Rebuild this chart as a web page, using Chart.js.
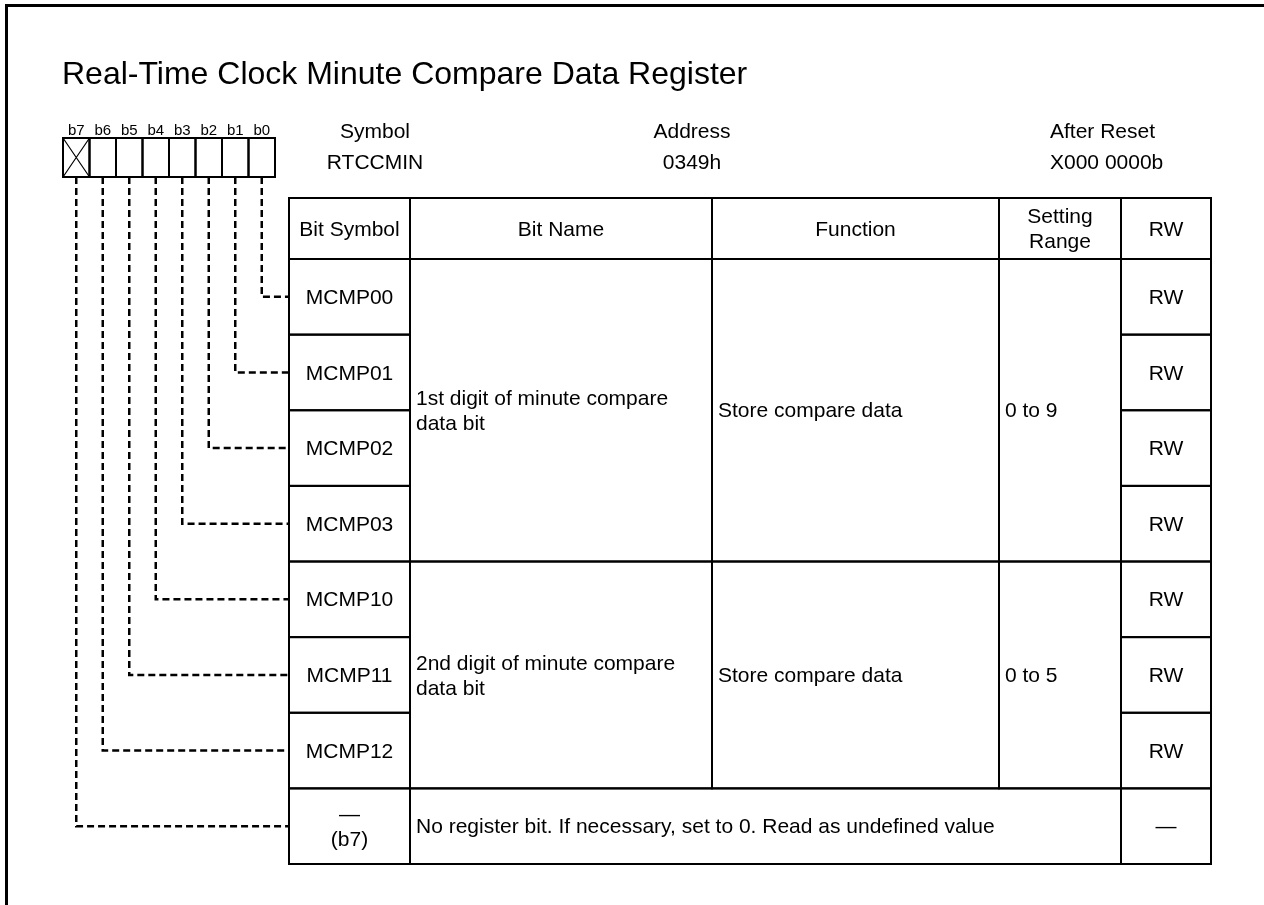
<!DOCTYPE html>
<html>
<head>
<meta charset="utf-8">
<script src="https://cdn.jsdelivr.net/npm/chart.js@4.4.1/dist/chart.umd.min.js"></script>
<style>
html,body{margin:0;padding:0;background:#fff;}
#wrap{width:1264px;height:905px;}
canvas{display:block;}
</style>
</head>
<body>
<div id="wrap"><canvas id="c" width="1264" height="905"></canvas></div>
<script>
// ---- data ----
const titleText = 'Real-Time Clock Minute Compare Data Register';
const bitLabels = ['b7','b6','b5','b4','b3','b2','b1','b0'];
const reservedBits = [7];
const registerSymbol = 'RTCCMIN';
const registerAddress = '0349h';
const registerReset = 'X000 0000b';
const infoHeaders = ['Symbol','Address','After Reset'];
const columnHeaders = ['Bit Symbol','Bit Name','Function','Setting\nRange','RW'];
const bitSymbols = ['MCMP00','MCMP01','MCMP02','MCMP03','MCMP10','MCMP11','MCMP12'];
const bitNumbers = [0,1,2,3,4,5,6];
const rwValues = ['RW','RW','RW','RW','RW','RW','RW'];
const groupFirstRow = [0,4];
const groupLastRow = [3,6];
const bitNames = ['1st digit of minute compare\ndata bit','2nd digit of minute compare\ndata bit'];
const functions = ['Store compare data','Store compare data'];
const settingRanges = ['0 to 9','0 to 5'];
const reservedSymbol = '\u2014\n(b7)';
const reservedText = 'No register bit. If necessary, set to 0. Read as undefined value';
const reservedRW = '\u2014';

// ---- layout (chart units) ----
const LAY = {
  frameX: 5, frameY: 4, frameW: 3,
  titleX: 62, titleY: 84, titleSize: 32,
  bitLeft: 63, bitTop: 138, bitBottom: 177, bitW: 26.5, bitLabelY: 135, bitLabelSize: 15,
  infoX: [375, 692, 1050], infoAlign: ['center','center','left'], infoY1: 138, infoY2: 169,
  cols: [289, 410, 712, 999, 1121, 1211],
  tableTop: 198, headBottom: 259, rowH: 75.625,
  font: 21, lineH: 25, pad: 6
};
const FONT = '"Liberation Sans", Arial, Helvetica, sans-serif';

function bitX(bit) { return LAY.bitLeft + (7 - bit + 0.5) * LAY.bitW; }
function rowTop(r) { return LAY.headBottom + r * LAY.rowH; }
function rowCenter(r) { return rowTop(r) + LAY.rowH / 2; }

// connector polylines: bit box -> row of table
const connectorRows = bitNumbers.concat(reservedBits);
const datasets = connectorRows.map((bit, r) => ({
  data: [
    { x: bitX(bit), y: LAY.bitBottom },
    { x: bitX(bit), y: rowCenter(r) },
    { x: LAY.cols[0], y: rowCenter(r) }
  ],
  showLine: true,
  borderColor: '#000',
  borderWidth: 2.5,
  borderDash: [7, 4],
  pointRadius: 0,
  tension: 0,
  fill: false
}));

const tablePlugin = {
  id: 'registerTable',
  afterDatasetsDraw(chart) {
    const ctx = chart.ctx;
    const xs = chart.scales.x, ys = chart.scales.y;
    const X = v => xs.getPixelForValue(v);
    const Y = v => ys.getPixelForValue(v);
    ctx.save();
    ctx.fillStyle = '#000';
    ctx.strokeStyle = '#000';

    // outer frame (top & left)
    ctx.fillRect(X(LAY.frameX), Y(LAY.frameY), X(1264) - X(LAY.frameX), LAY.frameW);
    ctx.fillRect(X(LAY.frameX), Y(LAY.frameY), LAY.frameW, Y(905) - Y(LAY.frameY));

    // title
    ctx.font = LAY.titleSize + 'px ' + FONT;
    ctx.textAlign = 'left';
    ctx.textBaseline = 'alphabetic';
    ctx.fillText(titleText, X(LAY.titleX), Y(LAY.titleY));

    // bit boxes
    const bt = Y(LAY.bitTop), bb = Y(LAY.bitBottom);
    bitLabels.forEach((lab, i) => {
      const bit = 7 - i;
      const x0 = X(LAY.bitLeft + i * LAY.bitW), x1 = X(LAY.bitLeft + (i + 1) * LAY.bitW);
      ctx.lineWidth = 2;
      ctx.strokeRect(x0, bt, x1 - x0, bb - bt);
      if (reservedBits.includes(bit)) {
        ctx.lineWidth = 1.2;
        ctx.beginPath();
        ctx.moveTo(x0, bt); ctx.lineTo(x1, bb);
        ctx.moveTo(x1, bt); ctx.lineTo(x0, bb);
        ctx.stroke();
      }
      ctx.font = LAY.bitLabelSize + 'px ' + FONT;
      ctx.textAlign = 'center';
      ctx.fillText(lab, X(bitX(bit)), Y(LAY.bitLabelY));
    });

    // register info
    ctx.font = LAY.font + 'px ' + FONT;
    const infoVals = [registerSymbol, registerAddress, registerReset];
    infoHeaders.forEach((h, i) => {
      ctx.textAlign = LAY.infoAlign[i];
      ctx.fillText(h, X(LAY.infoX[i]), Y(LAY.infoY1));
      ctx.fillText(infoVals[i], X(LAY.infoX[i]), Y(LAY.infoY2));
    });

    const C = LAY.cols;
    const off = LAY.font * 0.34;
    function text(str, x, cy, align) {
      const lines = str.split('\n');
      ctx.textAlign = align;
      lines.forEach((ln, k) => {
        const y = cy + (k - (lines.length - 1) / 2) * LAY.lineH + off;
        ctx.fillText(ln, X(x), Y(y));
      });
    }
    function cell(c0, c1, r0, r1) {
      const x0 = X(C[c0]), x1 = X(C[c1]);
      const y0 = Y(r0), y1 = Y(r1);
      ctx.lineWidth = 2;
      ctx.strokeRect(x0, y0, x1 - x0, y1 - y0);
    }

    // header row
    const hc = (LAY.tableTop + LAY.headBottom) / 2;
    columnHeaders.forEach((h, i) => {
      cell(i, i + 1, LAY.tableTop, LAY.headBottom);
      text(h, (C[i] + C[i + 1]) / 2, hc, 'center');
    });

    // bit rows
    bitSymbols.forEach((s, r) => {
      cell(0, 1, rowTop(r), rowTop(r + 1));
      text(s, (C[0] + C[1]) / 2, rowCenter(r), 'center');
      cell(4, 5, rowTop(r), rowTop(r + 1));
      text(rwValues[r], (C[4] + C[5]) / 2, rowCenter(r), 'center');
    });
    // merged groups
    groupFirstRow.forEach((g0, g) => {
      const g1 = groupLastRow[g];
      const top = rowTop(g0), bot = rowTop(g1 + 1), cy = (top + bot) / 2;
      cell(1, 2, top, bot);
      cell(2, 3, top, bot);
      cell(3, 4, top, bot);
      text(bitNames[g], C[1] + LAY.pad, cy, 'left');
      text(functions[g], C[2] + LAY.pad, cy, 'left');
      text(settingRanges[g], C[3] + LAY.pad, cy, 'left');
    });
    // reserved row
    const rr = bitSymbols.length;
    cell(0, 1, rowTop(rr), rowTop(rr + 1));
    text(reservedSymbol, (C[0] + C[1]) / 2, rowCenter(rr), 'center');
    cell(1, 4, rowTop(rr), rowTop(rr + 1));
    text(reservedText, C[1] + LAY.pad, rowCenter(rr), 'left');
    cell(4, 5, rowTop(rr), rowTop(rr + 1));
    text(reservedRW, (C[4] + C[5]) / 2, rowCenter(rr), 'center');

    ctx.restore();
  }
};

new Chart(document.getElementById('c'), {
  type: 'scatter',
  data: { datasets },
  options: {
    responsive: false,
    animation: false,
    devicePixelRatio: 1,
    layout: { padding: 0 },
    plugins: { legend: { display: false }, tooltip: { enabled: false }, title: { display: false } },
    scales: {
      x: { type: 'linear', min: 0, max: 1264, display: false },
      y: { type: 'linear', min: 0, max: 905, reverse: true, display: false }
    }
  },
  plugins: [tablePlugin]
});
</script>
</body>
</html>
